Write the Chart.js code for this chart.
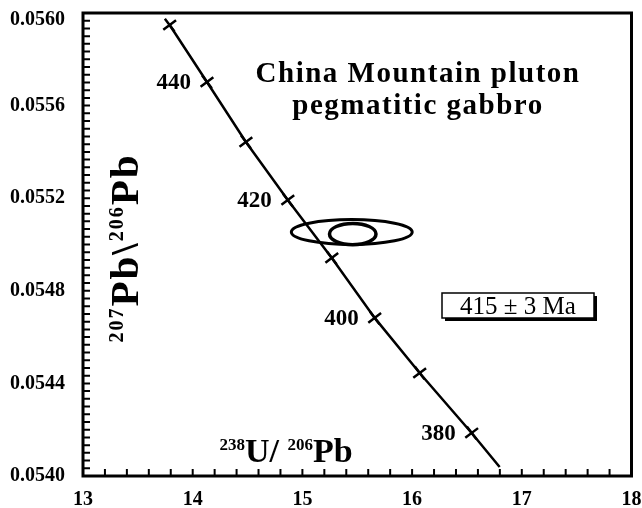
<!DOCTYPE html>
<html>
<head>
<meta charset="utf-8">
<script src="https://cdn.jsdelivr.net/npm/chart.js@4"></script>
<style>
  body { margin: 0; background: #fff; }
  #wrap { width: 642px; height: 508px; position: relative; }
</style>
</head>
<body>
<div id="wrap"><canvas id="concordiaChart"></canvas></div>
<script>
// Concordia curve (238U/206Pb, 207Pb/206Pb)
const ages = [450, 440, 430, 420, 410, 400, 390, 380, null];
const concordiaX = [13.79, 14.13, 14.485, 14.867, 15.268, 15.659, 16.069, 16.543, 16.798];
const concordiaY = [0.055948, 0.055702, 0.055443, 0.055192, 0.054942, 0.054683, 0.054445, 0.054186, 0.054039];
const labelledAges = [440, 420, 400, 380];

// error ellipses: centre and half axes
const ellipseX = [15.45, 15.459];
const ellipseY = [0.055054, 0.055045];
const ellipseRx = [0.551, 0.212];
const ellipseRy = [0.000054, 0.0000462];

// axes
const xTicks = [13, 14, 15, 16, 17, 18];
const yTicks = [0.0540, 0.0544, 0.0548, 0.0552, 0.0556, 0.0560];
const xMinorStep = 0.2;
const yMinorStep = 0.002 / 60;

const titleLines = ['China Mountain pluton', 'pegmatitic gabbro'];
const ageText = '415 \u00b1 3 Ma';

const serif = '"Liberation Serif", "Times New Roman", serif';

function drawRich(ctx, parts, x, y, bigSize, smallSize, spacing) {
    // measure then draw centred on x
    ctx.letterSpacing = (spacing || 0) + 'px';
    let total = 0;
    parts.forEach(p => {
        ctx.font = 'bold ' + (p.sup ? smallSize : bigSize) + 'px ' + serif;
        p.w = ctx.measureText(p.t).width;
        total += p.w;
    });
    let cx = x - total / 2;
    ctx.textAlign = 'left';
    ctx.textBaseline = 'alphabetic';
    parts.forEach(p => {
        ctx.font = 'bold ' + (p.sup ? smallSize : bigSize) + 'px ' + serif;
        ctx.fillText(p.t, cx, p.sup ? y - bigSize * 0.36 : y);
        cx += p.w;
    });
    ctx.letterSpacing = '0px';
}

const decorPlugin = {
    id: 'decor',
    afterDatasetsDraw(chart) {
        const ctx = chart.ctx;
        const xs = chart.scales.x;
        const ys = chart.scales.y;
        const area = chart.chartArea;

        // error ellipses
        ctx.save();
        ctx.strokeStyle = '#000';
        ellipseX.forEach((cx, i) => {
            const px = xs.getPixelForValue(cx);
            const py = ys.getPixelForValue(ellipseY[i]);
            const rx = Math.abs(xs.getPixelForValue(cx + ellipseRx[i]) - px);
            const ry = Math.abs(ys.getPixelForValue(ellipseY[i] + ellipseRy[i]) - py);
            ctx.lineWidth = i === 0 ? 3 : 3.5;
            ctx.beginPath();
            ctx.ellipse(px, py, rx, ry, 0, 0, Math.PI * 2);
            ctx.stroke();
        });
        ctx.restore();

        // age labels next to the ticks on the curve
        ctx.save();
        ctx.fillStyle = '#000';
        ctx.font = 'bold 23px ' + serif;
        ctx.textAlign = 'right';
        ctx.textBaseline = 'middle';
        ages.forEach((a, i) => {
            if (!labelledAges.includes(a)) return;
            const px = xs.getPixelForValue(concordiaX[i]);
            const py = ys.getPixelForValue(concordiaY[i]);
            ctx.fillText(String(a), px - 16, py + 1);
        });
        ctx.restore();

        // frame and inward ticks
        ctx.save();
        ctx.strokeStyle = '#000';
        ctx.lineWidth = 3;
        ctx.strokeRect(area.left, area.top, area.right - area.left, area.bottom - area.top);
        ctx.lineWidth = 2;
        ctx.beginPath();
        xs.ticks.forEach(t => {
            const px = xs.getPixelForValue(t.value);
            ctx.moveTo(px, area.bottom);
            ctx.lineTo(px, area.bottom - 7);
        });
        ys.ticks.forEach(t => {
            const py = ys.getPixelForValue(t.value);
            ctx.moveTo(area.left, py);
            ctx.lineTo(area.left + 7, py);
        });
        ctx.stroke();
        ctx.restore();

        // top y label sits just under the frame line, as in the original
        ctx.save();
        ctx.fillStyle = '#000';
        ctx.font = 'bold 20px ' + serif;
        ctx.textAlign = 'right';
        ctx.textBaseline = 'middle';
        const topVal = yTicks[yTicks.length - 1];
        ctx.fillText(topVal.toFixed(4), area.left - 18, ys.getPixelForValue(topVal) + 7);
        ctx.restore();

        // title
        ctx.save();
        ctx.fillStyle = '#000';
        ctx.font = 'bold 29px ' + serif;
        ctx.textAlign = 'center';
        ctx.textBaseline = 'alphabetic';
        ctx.letterSpacing = '1.5px';
        ctx.fillText(titleLines[0], 418, 82);
        ctx.fillText(titleLines[1], 418, 114);
        ctx.restore();

        // axis titles inside the plot
        ctx.save();
        ctx.fillStyle = '#000';
        drawRich(ctx, [{t: '238', sup: true}, {t: 'U/ '}, {t: '206', sup: true}, {t: 'Pb'}], 286, 462, 34, 17, 0);
        ctx.translate(138, 248);
        ctx.rotate(-Math.PI / 2);
        drawRich(ctx, [{t: '207', sup: true}, {t: 'Pb\\'}, {t: '206', sup: true}, {t: 'Pb'}], 0, 0, 41, 20, 2);
        ctx.restore();

        // age box with shadow
        ctx.save();
        ctx.fillStyle = '#000';
        ctx.fillRect(445, 296, 152, 25);
        ctx.fillStyle = '#fff';
        ctx.fillRect(442, 293, 152, 25);
        ctx.strokeStyle = '#000';
        ctx.lineWidth = 1.5;
        ctx.strokeRect(442, 293, 152, 25);
        ctx.fillStyle = '#000';
        ctx.font = '25px ' + serif;
        ctx.textAlign = 'center';
        ctx.textBaseline = 'middle';
        ctx.fillText(ageText, 518, 307);
        ctx.restore();
    }
};

function minorTicks(min, max, step) {
    const out = [];
    const n = Math.round((max - min) / step);
    for (let i = 0; i <= n; i++) out.push({ value: min + i * step });
    return out;
}

new Chart(document.getElementById('concordiaChart'), {
    type: 'scatter',
    data: {
        datasets: [{
            data: concordiaX.map((x, i) => ({ x: x, y: concordiaY[i] })),
            showLine: true,
            borderColor: '#000',
            borderWidth: 2.5,
            pointStyle: 'cross',
            rotation: 53,
            pointRadius: ages.map(a => a === null ? 0 : 8),
            pointBorderWidth: 2.5,
            pointBorderColor: '#000',
            pointBackgroundColor: '#000'
        }]
    },
    options: {
        responsive: true,
        maintainAspectRatio: false,
        animation: false,
        layout: { padding: { top: 13, right: 10, left: 0, bottom: 0 } },
        plugins: {
            legend: { display: false },
            tooltip: { enabled: false }
        },
        scales: {
            x: {
                type: 'linear',
                min: xTicks[0],
                max: xTicks[xTicks.length - 1],
                afterBuildTicks: scale => { scale.ticks = minorTicks(xTicks[0], xTicks[xTicks.length - 1], xMinorStep); },
                afterFit: scale => { scale.height = 32; scale.paddingLeft = 0; scale.paddingRight = 0; },
                grid: { display: false },
                border: { display: false },
                ticks: {
                    autoSkip: false,
                    maxRotation: 0,
                    padding: 4,
                    color: '#000',
                    font: { family: serif, size: 20, weight: 'bold' },
                    callback: (v, i) => i % 5 === 0 ? String(Math.round(v)) : ''
                }
            },
            y: {
                type: 'linear',
                min: yTicks[0],
                max: yTicks[yTicks.length - 1],
                afterBuildTicks: scale => { scale.ticks = minorTicks(yTicks[0], yTicks[yTicks.length - 1], yMinorStep); },
                afterFit: scale => { scale.width = 83; scale.paddingTop = 0; scale.paddingBottom = 0; },
                grid: { display: false },
                border: { display: false },
                ticks: {
                    autoSkip: false,
                    padding: 10,
                    color: '#000',
                    font: { family: serif, size: 20, weight: 'bold' },
                    // the top label is drawn by the plugin
                    callback: (v, i) => (i % 12 === 0 && i < 60) ? v.toFixed(4) : ''
                }
            }
        }
    },
    plugins: [decorPlugin]
});
</script>
</body>
</html>
